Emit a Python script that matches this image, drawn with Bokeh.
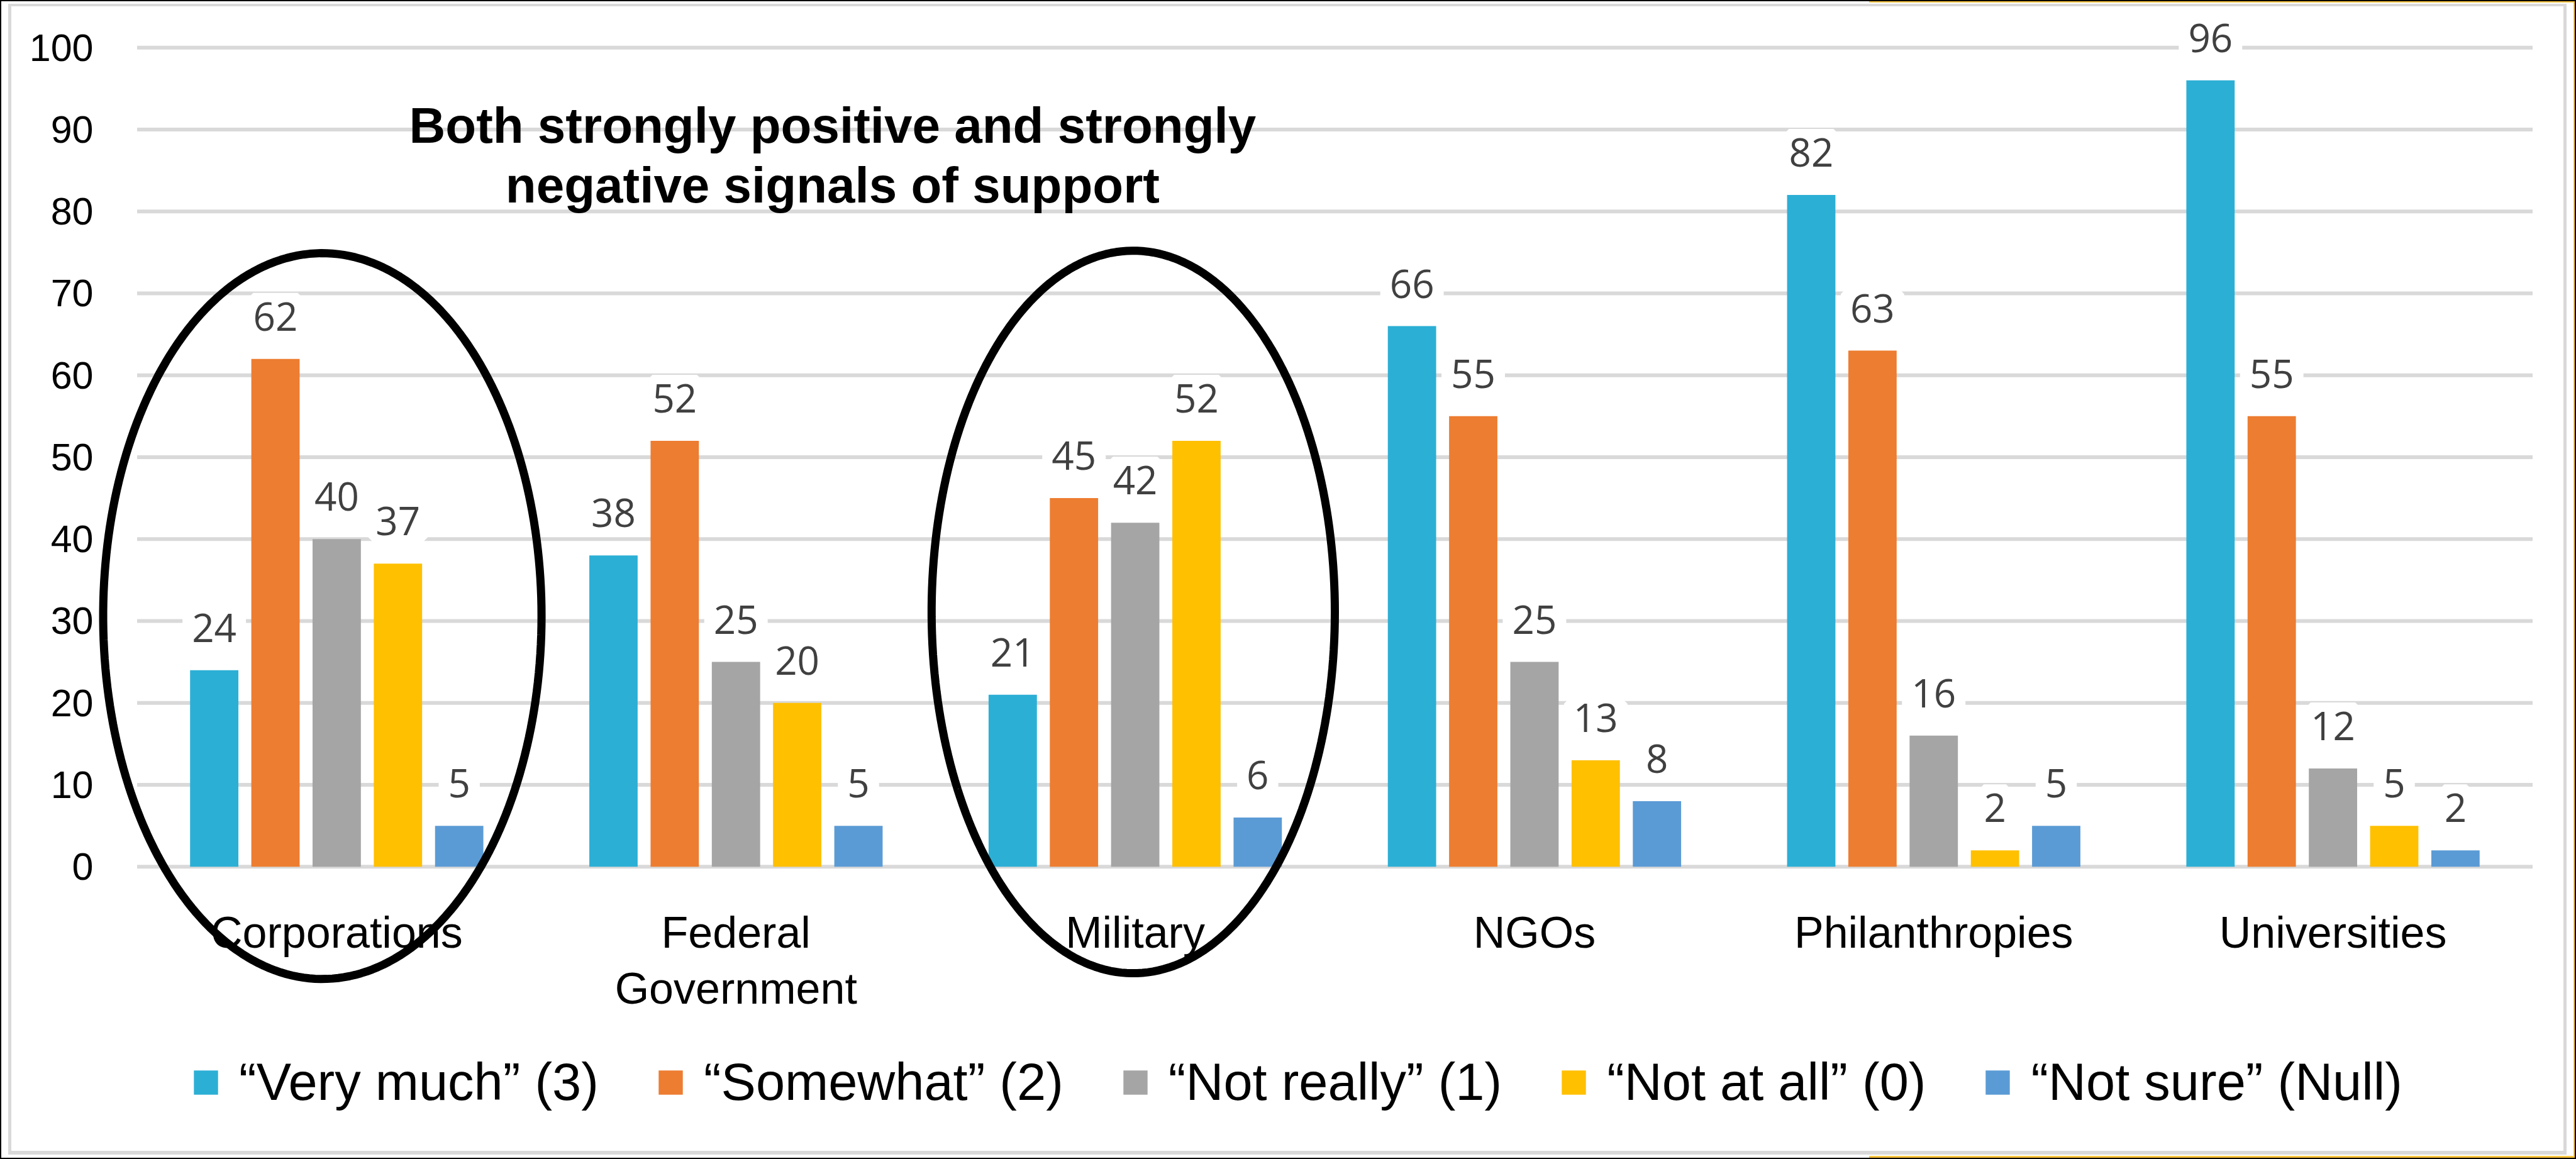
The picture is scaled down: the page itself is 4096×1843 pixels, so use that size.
import numpy as np
from bokeh.plotting import figure
from bokeh.models import (ColumnDataSource, FactorRange, Range1d, FixedTicker, LabelSet, Label,
                          Legend, LegendItem, PolyAnnotation)
from bokeh.core.properties import value
from bokeh.transform import dodge
from bokeh.embed import file_html
from bokeh.resources import INLINE

# ---------------- data ----------------
categories = ["Corporations", "Federal\nGovernment", "Military", "NGOs", "Philanthropies", "Universities"]
series_names = ["\u201cVery much\u201d (3)", "\u201cSomewhat\u201d (2)", "\u201cNot really\u201d (1)",
                "\u201cNot at all\u201d (0)", "\u201cNot sure\u201d (Null)"]
very_much = [24, 38, 21, 66, 82, 96]
somewhat = [62, 52, 45, 55, 63, 55]
not_really = [40, 25, 42, 25, 16, 12]
not_at_all = [37, 20, 52, 13, 2, 5]
not_sure = [5, 5, 6, 8, 5, 2]
y_ticks = [0, 10, 20, 30, 40, 50, 60, 70, 80, 90, 100]
annotation_lines = ["Both strongly positive and strongly", "negative signals of support"]
circled = ["Corporations", "Military"]

# ---------------- styles ----------------
colors = ["#2CAFD5", "#ED7D31", "#A5A5A5", "#FFC000", "#5B9BD5"]
W, H = 4096, 1843
series_values = [very_much, somewhat, not_really, not_at_all, not_sure]
keys = ["s0", "s1", "s2", "s3", "s4"]

data = {"cat": categories}
for k, vals in zip(keys, series_values):
    data[k] = vals
    data[k + "_t"] = [str(v) for v in vals]
source = ColumnDataSource(data)

# frame is enlarged (left/right padding, below 0, above 100) so that the
# ellipses, the labels and the legend are not clipped
p = figure(width=W, height=H,
           x_range=FactorRange(factors=categories, range_padding=0.1, range_padding_units="absolute",
                               factor_padding=0),
           y_range=Range1d(-35.1, 105),
           output_backend="svg", toolbar_location=None,
           min_border_left=154, min_border_right=6, min_border_top=10, min_border_bottom=8)
p.border_fill_color = None
p.background_fill_color = None
p.outline_line_color = None

# horizontal gridlines across the category area only
p.xgrid.visible = False
p.ygrid.visible = False
p.segment(x0=0, x1=len(categories), y0=y_ticks, y1=y_ticks, line_color="#D9D9D9", line_width=6)

bar_w = 0.121
step = 0.1534
renderers = []
for i, (k, c) in enumerate(zip(keys, colors)):
    off = (i - 2) * step
    r = p.vbar(x=dodge("cat", off, range=p.x_range), top=k, width=bar_w, source=source,
               fill_color=c, line_color=None)
    renderers.append(r)

# axes
p.yaxis.ticker = FixedTicker(ticks=y_ticks)
for ax in (p.xaxis[0], p.yaxis[0]):
    ax.axis_line_color = None
    ax.major_tick_line_color = None
    ax.minor_tick_line_color = None
    ax.major_tick_out = 0
    ax.major_tick_in = 0
    ax.major_label_text_color = "#000000"
    ax.major_label_text_font = "Liberation Sans"
p.yaxis.major_label_text_font_size = "61px"
p.yaxis.major_label_standoff = 6
p.xaxis.major_label_text_font_size = "70px"
p.xaxis.major_label_standoff = -392
p.xaxis.major_label_text_line_height = 1.15

# value labels (white box interrupts the gridlines, as in the original)
for i, k in enumerate(keys):
    off = (i - 2) * step
    ls = LabelSet(x=dodge("cat", off, range=p.x_range), y=k, text=k + "_t", source=source,
                  text_align="center", text_baseline="alphabetic", y_offset=45,
                  text_font=value("Open Sans"), text_font_size="62px", text_color="#404040",
                  background_fill_color="white", border_line_color="white", border_line_width=30)
    p.add_layout(ls)

# annotation title
for j, line in enumerate(annotation_lines):
    p.add_layout(Label(x=1.742, y=90.5 - j * 7.3, text=line, text_align="center",
                       text_baseline="alphabetic", text_font="Liberation Sans",
                       text_font_style="bold", text_font_size="80px", text_color="#000000"))

# ellipses
ell = {"Corporations": (-0.036, 0.549, 30.6, 44.3), "Military": (-0.005, 0.505, 31.1, 44.1)}
t = np.linspace(0, 2 * np.pi, 240)
for name in circled:
    dx, a, yc, b = ell[name]
    xc = categories.index(name) + 0.5 + dx
    p.add_layout(PolyAnnotation(xs=list(xc + a * np.cos(t)), ys=list(yc + b * np.sin(t)),
                                fill_alpha=0, line_color="#000000", line_alpha=1.0, line_width=13))

# legend
legend = Legend(items=[LegendItem(label=n, renderers=[r]) for n, r in zip(series_names, renderers)],
                orientation="horizontal", location=(149, 66), padding=0, margin=0,
                spacing=90, label_standoff=29, glyph_width=48, glyph_height=48,
                label_text_font_size="83px", label_text_font="Liberation Sans",
                label_text_color="#000000", border_line_color=None, background_fill_alpha=0)
p.add_layout(legend)

# chart-area border (frame of the slide object)
p.styles = {
    "outline": "2px solid #000000",
    "outline-offset": "-2px",
    "background": ", ".join([
        "linear-gradient(#FFC540,#FFC540) 2972px 0px / 1124px 4px no-repeat",
        "linear-gradient(#FFC540,#FFC540) 2972px 1838px / 1124px 5px no-repeat",
        "linear-gradient(#FFC540,#FFC540) 4092px 0px / 4px 1843px no-repeat",
        "linear-gradient(#D9D9D9,#D9D9D9) 13px 6px / 4068px 4px no-repeat",
        "linear-gradient(#D9D9D9,#D9D9D9) 13px 1830px / 4068px 6px no-repeat",
        "linear-gradient(#D9D9D9,#D9D9D9) 13px 6px / 5px 1830px no-repeat",
        "linear-gradient(#D9D9D9,#D9D9D9) 4076px 6px / 5px 1830px no-repeat",
        "#FFFFFF",
    ]),
}

open("out.html", "w").write(file_html(p, INLINE))
